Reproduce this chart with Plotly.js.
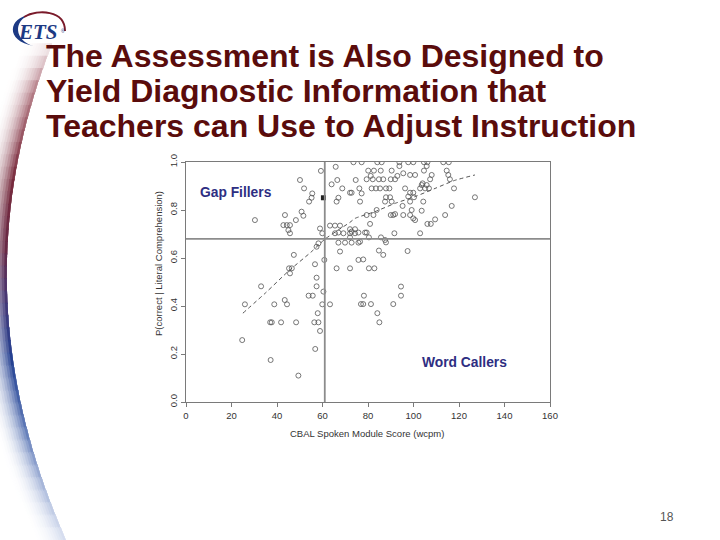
<!DOCTYPE html>
<html>
<head>
<meta charset="utf-8">
<script src="https://cdn.plot.ly/plotly-3.0.1.min.js"></script>
<style>html,body{margin:0;padding:0;background:#fff;}#chart{width:720px;height:540px;}</style>
</head>
<body>
<div id="chart"></div>
<script>
// ---------------- DATA ----------------
const titleLines = [
  "The Assessment is Also Designed to",
  "Yield Diagnostic Information that",
  "Teachers can Use to Adjust Instruction"
];
const xAxisTitle = "CBAL Spoken Module Score (wcpm)";
const yAxisTitle = "P(correct | Literal Comprehension)";
const xTickVals = [0, 20, 40, 60, 80, 100, 120, 140, 160];
const yTickVals = [0, 0.2, 0.4, 0.6, 0.8, 1.0];
const yTickText = ["0.0", "0.2", "0.4", "0.6", "0.8", "1.0"];
const quadrantLabels = ["Gap Fillers", "Word Callers"];
const quadrantX = [22, 122.5];
const quadrantY = [0.875, 0.163];
const cutScore = 61;      // vertical reference line (wcpm)
const cutComp = 0.68;     // horizontal reference line
const pageNumber = "18";

// student scores (wcpm) and P(correct)
const scoreX = [
  24.7,25.9,33.0,37.0,37.7,37.2,38.8,41.8,43.4,44.4,48.4,49.4,53.9,55.7,56.4,58.2,56.8,57.9,58.9,57.4,60.4,59.9,
  45.3,46.5,45.7,47.4,56.7,57.4,57.4,58.2,60.8,
  63.3,66.2,72.1,67.7,75.8,77.9,75.8,67.0,69.9,72.8,85.7,80.4,87.9,84.8,86.7,97.4,80.4,82.8,94.5,94.5,78.2,76.9,77.9,81.3,91.1,84.1,85.0,
  30.3,43.5,42.8,44.3,45.7,45.0,45.7,48.3,50.8,51.6,50.1,51.9,55.5,55.2,54.1,59.3,58.9,59.9,
  65.8,73.6,64.0,66.5,68.7,72.1,72.8,67.0,66.2,63.3,65.5,67.7,72.1,74.3,65.5,67.0,69.2,72.1,74.3,74.6,
  77.2,84.1,86.0,93.8,97.7,99.9,104.6,106.1,113.1,115.5,93.8,105.8,
  80.1,82.6,85.6,90.4,104.6,114.6,95.5,98.5,100.7,92.9,81.2,108.0,115.3,
  79.4,82.1,84.8,86.7,90.0,91.9,107.3,116.0,104.0,103.6,105.8,
  76.2,81.6,83.5,85.3,87.9,89.4,96.3,102.9,105.1,106.8,117.8,
  77.2,98.5,99.9,87.9,89.7,97.7,100.2,127.0,76.5,87.5,90.4,98.5,104.3,95.2,116.8,
  83.8,99.2,103.6,79.4,82.4,90.0,91.1,91.9,95.5,98.5,99.9,100.7,109.5,113.9,80.9,106.1,107.6,
  72.8,75.8,78.7,79.4,91.6,102.9,72.1,87.5,76.5
];
const compY = [
  0.258,0.407,0.482,0.332,0.332,0.175,0.407,0.332,0.425,0.407,0.332,0.110,0.443,0.443,0.332,0.332,0.221,0.370,0.296,0.482,0.460,0.407,
  0.557,0.557,0.536,0.613,0.574,0.518,0.647,0.661,0.592,
  0.407,0.557,0.557,0.627,0.592,0.594,0.664,0.664,0.664,0.664,0.686,0.686,0.665,0.631,0.613,0.629,0.557,0.557,0.481,0.443,0.443,0.408,0.408,0.408,0.408,0.370,0.332,
  0.758,0.779,0.737,0.737,0.737,0.716,0.703,0.758,0.793,0.776,0.925,0.890,0.869,0.851,0.835,0.963,0.723,0.703,
  0.980,0.999,0.907,0.925,0.890,0.872,0.872,0.851,0.835,0.735,0.735,0.735,0.720,0.720,0.703,0.706,0.703,0.703,0.703,0.925,
  0.999,0.999,0.999,0.999,0.999,0.999,0.999,0.999,0.999,0.999,0.983,0.983,
  0.964,0.964,0.964,0.964,0.964,0.964,0.953,0.946,0.946,0.942,0.942,0.946,0.946,
  0.928,0.928,0.928,0.928,0.928,0.928,0.928,0.928,0.911,0.904,0.904,
  0.890,0.890,0.890,0.890,0.890,0.890,0.890,0.890,0.890,0.890,0.890,
  0.869,0.872,0.872,0.853,0.853,0.856,0.853,0.853,0.835,0.835,0.835,0.835,0.835,0.817,0.817,
  0.800,0.800,0.797,0.779,0.779,0.779,0.779,0.783,0.779,0.779,0.765,0.758,0.761,0.779,0.742,0.742,0.742,
  0.710,0.706,0.706,0.706,0.703,0.703,0.686,0.675,0.668
];
// overlapping points drawn as a dark blot
const overlapX = [60.4];
const overlapY = [0.851];
// smoothed (loess) curve
const loessX = [25, 35, 45, 55, 61, 67, 72, 74.3, 83, 92, 101, 109.5, 118, 127];
const loessY = [0.37, 0.455, 0.545, 0.625, 0.678, 0.717, 0.748, 0.765, 0.793, 0.828, 0.857, 0.89, 0.923, 0.946];

// ---------------- HELPERS ----------------
const W = 720, H = 540;
const px = x => x / W;
const py = y => 1 - y / H;
const pathFrom = (cmds) => cmds.map(c => {
  const op = c[0]; const pts = c.slice(1);
  let s = op;
  for (let i = 0; i < pts.length; i += 2) s += ' ' + px(pts[i]).toFixed(5) + ',' + py(pts[i+1]).toFixed(5);
  return s;
}).join(' ') ;

const FONT = 'Liberation Sans, Arial, sans-serif';
const shapes = [];

// left decorative gradient band (painter's order: light wide strips first, dark narrow last)
(function () {
  const p0 = [52, 44], c = [-45, 290], p1 = [66, 540];
  const B = t => [
    (1-t)*(1-t)*p0[0] + 2*(1-t)*t*c[0] + t*t*p1[0],
    (1-t)*(1-t)*p0[1] + 2*(1-t)*t*c[1] + t*t*p1[1]
  ];
  const stops = [
    [44, [150, 70, 85], 0.10],
    [90, [135, 45, 60], 0.6],
    [180, [105, 20, 40], 0.9],
    [250, [95, 30, 60], 0.95],
    [300, [60, 45, 110], 0.95],
    [360, [25, 55, 140], 0.95],
    [430, [45, 80, 160], 0.75],
    [540, [150, 170, 215], 0.35]
  ];
  const colAt = y => {
    if (y <= stops[0][0]) return [stops[0][1], stops[0][2]];
    for (let i = 0; i < stops.length - 1; i++) {
      const a = stops[i], b = stops[i+1];
      if (y <= b[0]) {
        const f = (y - a[0]) / (b[0] - a[0]);
        return [[0,1,2].map(j => a[1][j] + f*(b[1][j]-a[1][j])), a[2] + f*(b[2]-a[2])];
      }
    }
    const l = stops[stops.length-1]; return [l[1], l[2]];
  };
  const M = 40, N = 12, w = 2.5;
  for (let k = N - 1; k >= 0; k--) {
    for (let i = 0; i < M; i++) {
      const t0 = i / M, t1 = (i + 1) / M;
      const a = B(t0), b = B(t1);
      const [rgb, op] = colAt((a[1] + b[1]) / 2);
      const fade = Math.pow(1 - k / N, 2.0) * op;
      const r = Math.round(255 + (rgb[0]-255)*fade), g = Math.round(255 + (rgb[1]-255)*fade), bb = Math.round(255 + (rgb[2]-255)*fade);
      const xo1 = (k+1)*w;
      shapes.push({
        type: 'path', xref: 'paper', yref: 'paper', layer: 'below',
        path: pathFrom([['M', a[0], a[1]-0.6], ['L', b[0], b[1]+0.6], ['L', b[0]-xo1, b[1]+0.6], ['L', a[0]-xo1, a[1]-0.6], ['Z']]),
        fillcolor: `rgb(${r},${g},${bb})`, line: {width: 0}
      });
    }
  }
})();

// ETS logo swooshes
shapes.push({
  type: 'path', xref: 'paper', yref: 'paper',
  path: pathFrom([['M', 30, 15], ['C', 9, 17, 4, 41, 34, 46], ['C', 14, 41, 13, 20, 30, 15], ['Z']]),
  fillcolor: '#1d3a84', line: {width: 0}
});
shapes.push({
  type: 'path', xref: 'paper', yref: 'paper',
  path: pathFrom([['M', 24, 17], ['C', 38, 9, 65, 10, 65, 31]]),
  line: {color: '#7a1a2a', width: 2}
});

// reference lines
shapes.push({type: 'line', xref: 'x', yref: 'y', x0: cutScore, x1: cutScore, y0: 0, y1: 1, line: {color: '#8c8c8c', width: 1.8}});
shapes.push({type: 'line', xref: 'x', yref: 'y', x0: 0, x1: 160, y0: cutComp, y1: cutComp, line: {color: '#8c8c8c', width: 1.8}});

// ---------------- ANNOTATIONS ----------------
const annotations = [];
const titleYs = [56, 91, 125.5];
titleLines.forEach((t, i) => annotations.push({
  text: '<b>' + t + '</b>', xref: 'paper', yref: 'paper', x: px(44), y: py(titleYs[i]),
  xanchor: 'left', yanchor: 'middle', showarrow: false,
  font: {family: FONT, size: 32, color: '#5a0c0c'}
}));
annotations.push({
  text: xAxisTitle, xref: 'paper', yref: 'paper', x: px(367), y: py(433),
  xanchor: 'center', yanchor: 'middle', showarrow: false,
  font: {family: FONT, size: 9.5, color: '#333'}
});
annotations.push({
  text: yAxisTitle, xref: 'paper', yref: 'paper', x: px(158), y: py(264), textangle: -90,
  xanchor: 'center', yanchor: 'middle', showarrow: false,
  font: {family: FONT, size: 9.5, color: '#333'}
});
quadrantLabels.forEach((t, i) => annotations.push({
  text: '<b>' + t + '</b>', xref: 'x', yref: 'y', x: quadrantX[i], y: quadrantY[i],
  xanchor: 'center', yanchor: 'middle', showarrow: false,
  font: {family: FONT, size: 13.8, color: '#2e2e82'}
}));
annotations.push({
  text: pageNumber, xref: 'paper', yref: 'paper', x: px(667), y: py(517),
  xanchor: 'center', yanchor: 'middle', showarrow: false,
  font: {family: FONT, size: 12, color: '#555'}
});
annotations.push({
  text: '<b><i>ETS</i></b>', xref: 'paper', yref: 'paper', x: px(38), y: py(32),
  xanchor: 'center', yanchor: 'middle', showarrow: false,
  font: {family: 'Liberation Serif, Times New Roman, serif', size: 21, color: '#1d3a84'}
});
annotations.push({
  text: '®', xref: 'paper', yref: 'paper', x: px(58.5), y: py(31),
  xanchor: 'left', yanchor: 'middle', showarrow: false,
  font: {family: FONT, size: 5, color: '#1d3a84'}
});

// ---------------- TRACES ----------------
const traces = [
  {
    x: scoreX, y: compY, type: 'scatter', mode: 'markers', hoverinfo: 'skip',
    marker: {symbol: 'circle-open', size: 5, color: '#555', line: {width: 0.8}}
  },
  {
    x: overlapX, y: overlapY, type: 'scatter', mode: 'markers', hoverinfo: 'skip',
    marker: {symbol: 'square', size: 5, color: '#222'}
  },
  {
    x: loessX, y: loessY, type: 'scatter', mode: 'lines', hoverinfo: 'skip',
    line: {color: '#555', width: 1, dash: '4px,3px', shape: 'spline', smoothing: 0.6}
  }
];

const axisCommon = {
  showgrid: false, zeroline: false, showline: true, linecolor: '#7a7a7a', linewidth: 1.3, mirror: true,
  ticks: 'outside', ticklen: 4, tickwidth: 1, tickcolor: '#7a7a7a',
  tickfont: {family: FONT, size: 9.5, color: '#333'}, fixedrange: true
};

const layout = {
  width: W, height: H, margin: {l: 0, r: 0, t: 0, b: 0, pad: 0},
  paper_bgcolor: '#fff', plot_bgcolor: '#fff', showlegend: false,
  xaxis: Object.assign({}, axisCommon, {domain: [186/W, 550/W], range: [0, 160], tickvals: xTickVals}),
  yaxis: Object.assign({}, axisCommon, {domain: [1 - 402/H, 1 - 162/H], range: [0, 1], tickvals: yTickVals, ticktext: yTickText, tickangle: -90}),
  shapes: shapes, annotations: annotations
};

Plotly.newPlot('chart', traces, layout, {displayModeBar: false, staticPlot: true});
</script>
</body>
</html>
